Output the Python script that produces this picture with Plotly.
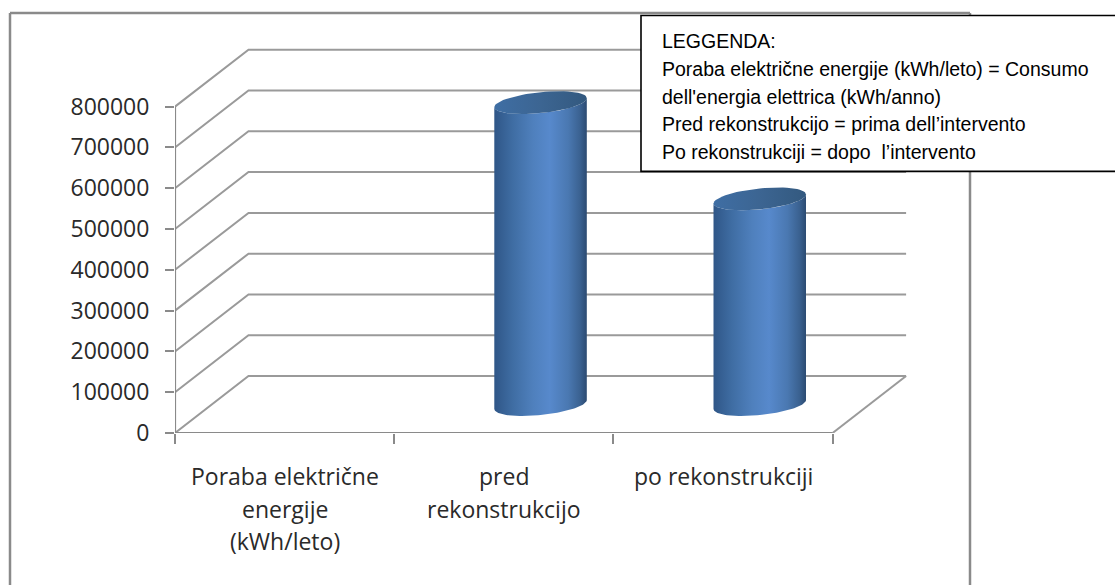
import math
import plotly.graph_objects as go

# ---- data ----
categories = [["Poraba električne", "energije", "(kWh/leto)"], ["pred", "rekonstrukcijo"], ["po rekonstrukciji"]]
consumption = [None, 740000, 504000]
y_ticks = [0, 100000, 200000, 300000, 400000, 500000, 600000, 700000, 800000]
legend_lines = [
    "LEGGENDA:",
    "Poraba električne energije (kWh/leto) = Consumo",
    "dell'energia elettrica (kWh/anno)",
    "Pred rekonstrukcijo = prima dell’intervento",
    "Po rekonstrukciji = dopo  l’intervento",
]

# ---- layout geometry (pixels) ----
W, H = 1115, 585
L, R, T, B = 175, 915, 40, 433.5
PX_PER_CAT = 219.2
PX_PER_UNIT = 40.85 / 100000
XMAX = (R - L) / PX_PER_CAT
YMAX = (B - T) / PX_PER_UNIT
DEPTH_X = 73.5 / PX_PER_CAT
DEPTH_Y = 57 / PX_PER_UNIT
GRID = "#9a9a9a"
AXIS = "#8a8a8a"
AXIS_FONT = dict(family="Open Sans", size=23, color="#2a2a2a")


def px(x):
    return (x - L) / (R - L)


def py(y):
    return (B - y) / (B - T)


fig = go.Figure()

# back wall and side wall gridlines
gx, gy = [], []
for v in y_ticks:
    gx += [0, DEPTH_X, 3 + DEPTH_X, None]
    gy += [v, v + DEPTH_Y, v + DEPTH_Y, None]
gx += [3 + DEPTH_X, 3]
gy += [DEPTH_Y, 0]
fig.add_trace(go.Scatter(x=gx, y=gy, mode="lines", line=dict(color=GRID, width=2), cliponaxis=False, hoverinfo="skip"))

# axis lines
fig.add_trace(go.Scatter(x=[0, 0, None, 0, 3], y=[y_ticks[-1], 0, None, 0, 0], mode="lines",
                         line=dict(color=AXIS, width=2.2), cliponaxis=False, hoverinfo="skip"))

# cylinders
RAD = 46.25
TILT_A, TILT_B = 4.5, 10.5
N = 60
body_scale = [[0, "#2f5687"], [0.2, "#3f6da3"], [0.42, "#4f80bd"], [0.6, "#5789cc"], [0.8, "#4a78b1"], [0.93, "#3a6190"], [1, "#2c4b72"]]
cap_scale = [[0, "#3f6ea4"], [0.5, "#3c6592"], [1, "#33597f"]]


def rim(cx, cy, a0, a1):
    xs, ys = [], []
    for i in range(N + 1):
        t = a0 + (a1 - a0) * i / N
        xs.append(cx + RAD * math.cos(t) / PX_PER_CAT)
        ys.append(cy + (TILT_A * math.cos(t) + TILT_B * math.sin(t)) / PX_PER_UNIT)
    return xs, ys


for i, val in enumerate(consumption):
    if val is None:
        continue
    cx = i + 0.5 + DEPTH_X / 2
    base = DEPTH_Y / 2
    top = val + DEPTH_Y / 2
    bx, by = rim(cx, base, -math.pi, 0)
    tx, ty = rim(cx, top, 0, -math.pi)
    fig.add_trace(go.Scatter(x=bx + tx, y=by + ty, mode="lines", fill="toself", line=dict(width=0),
                             fillgradient=dict(type="horizontal", colorscale=body_scale), hoverinfo="skip"))
    ex, ey = rim(cx, top, 0, 2 * math.pi)
    fig.add_trace(go.Scatter(x=ex, y=ey, mode="lines", fill="toself", line=dict(width=0),
                             fillgradient=dict(type="horizontal", colorscale=cap_scale), hoverinfo="skip"))

shapes = [
    # outer frame
    dict(type="line", xref="paper", yref="paper", x0=px(10), x1=px(10), y0=py(13), y1=py(590), line=dict(color=AXIS, width=2.5), layer="below"),
    dict(type="line", xref="paper", yref="paper", x0=px(10), x1=px(970), y0=py(13), y1=py(13), line=dict(color=AXIS, width=2.5), layer="below"),
    dict(type="line", xref="paper", yref="paper", x0=px(970), x1=px(970), y0=py(13), y1=py(590), line=dict(color=AXIS, width=2.5), layer="below"),
    # legend box
    dict(type="rect", xref="paper", yref="paper", x0=px(641), x1=px(1125), y0=py(171.5), y1=py(15.5),
         fillcolor="white", line=dict(color="black", width=1.6), layer="above"),
]

annotations = []
legend_y = [41, 69, 97, 124.5, 152]
for text, y in zip(legend_lines, legend_y):
    annotations.append(dict(xref="paper", yref="paper", x=px(660), y=py(y), text=text, showarrow=False, xanchor="left", yanchor="middle",
                            font=dict(family="Liberation Sans", size=19.5, color="black")))
for c, rows in enumerate(categories):
    for j, row in enumerate(rows):
        annotations.append(dict(xref="x", yref="paper", x=c + 0.5, y=py(477 + 32.5 * j), text=row, showarrow=False, xanchor="center", yanchor="middle",
                                font=AXIS_FONT))

fig.update_layout(
    width=W, height=H,
    margin=dict(l=L, r=W - R, t=T, b=H - B, pad=0),
    paper_bgcolor="white", plot_bgcolor="white",
    showlegend=False,
    shapes=shapes, annotations=annotations,
    xaxis=dict(range=[0, XMAX], tickvals=[0, 1, 2, 3], ticktext=["", "", "", ""], ticks="outside", ticklen=10, tickwidth=2, tickcolor=AXIS,
               showgrid=False, zeroline=False, showline=False),
    yaxis=dict(range=[0, YMAX], tickvals=y_ticks, ticktext=[str(v) for v in y_ticks], ticks="outside", ticklen=9, tickwidth=2, tickcolor=AXIS,
               showgrid=False, zeroline=False, showline=False, tickfont=AXIS_FONT, ticklabelstandoff=11),
)
fig.write_html("out.html", config=dict(displayModeBar=False),
               post_script="document.body.style.margin='0';document.documentElement.style.overflow='hidden';")
